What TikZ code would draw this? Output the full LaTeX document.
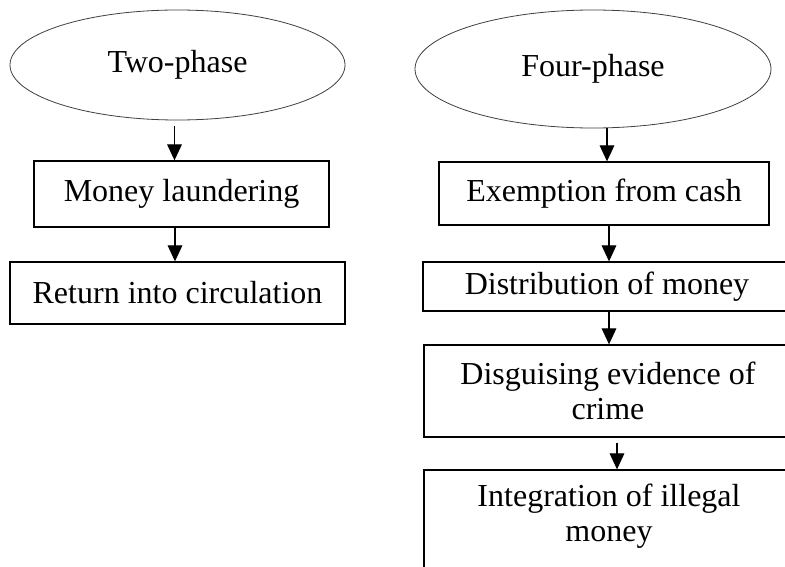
\documentclass[tikz,border=0pt]{standalone}
\usepackage{fontspec}
\setmainfont{Liberation Serif}
\usetikzlibrary{shapes.geometric,arrows.meta}
\begin{document}
\begin{tikzpicture}[x=0.75pt,y=-0.75pt,
  every node/.style={font=\fontsize{24}{26.5}\selectfont, text=black},
  oval/.style={ellipse, draw=black!75, line width=0.6pt, inner sep=0pt},
  stepbox/.style={rectangle, draw=black, line width=1pt, inner sep=0pt, align=center},
  lbl/.style={align=center, inner sep=0pt},
  arr/.style={draw=black, line width=0.9pt, -{Triangle[length=12pt,width=11pt]}}]
\useasboundingbox (0,0) rectangle (785,567);
\clip (0,0) rectangle (785,567);
\fill[white] (0,0) rectangle (785,567);
% left column
\node[oval, minimum width=251.25pt, minimum height=82.5pt] (tw) at (177.5,65) {Two-phase};
\node[stepbox, minimum width=221.25pt, minimum height=49.5pt] (ml) at (181.5,194) {Money laundering};
\node[stepbox, minimum width=251.25pt, minimum height=46.5pt] (rc) at (177.5,293) {Return into circulation};
% right column
\node[oval, minimum width=267pt, minimum height=88.5pt] (fo) at (593,69) {Four-phase};
\node[stepbox, minimum width=247.5pt, minimum height=47.25pt] (ex) at (604,193.5) {Exemption from cash};
\node[stepbox, minimum width=276pt, minimum height=36.75pt] (di) at (607,286.5) {Distribution of money};
\node[stepbox, minimum width=276pt, minimum height=69pt] (dg) at (608,391) {Disguising evidence of\\crime};
\node[stepbox, minimum width=277.5pt, minimum height=90pt] (ig) at (609,530) {};
\node[lbl] (igt) at (609,516) {Integration of illegal\\money};
% connectors
\coordinate (a1) at ([shift={(-3,6)}]tw.south);
\draw[arr] (a1) -- (a1 |- ml.north);
\coordinate (a2) at (175,0);
\draw[arr] (a2 |- ml.south) -- (a2 |- rc.north);
\coordinate (b1) at ([shift={(14,0)}]fo.south);
\draw[arr] (b1) -- (b1 |- ex.north);
\coordinate (b2) at (609,0);
\draw[arr] (b2 |- ex.south) -- (b2 |- di.north);
\draw[arr] (b2 |- di.south) -- (b2 |- dg.north);
\coordinate (b3) at (617,0);
\draw[arr] ([yshift=-3.75pt]b3 |- dg.south) -- (b3 |- ig.north);
\end{tikzpicture}
\end{document}
